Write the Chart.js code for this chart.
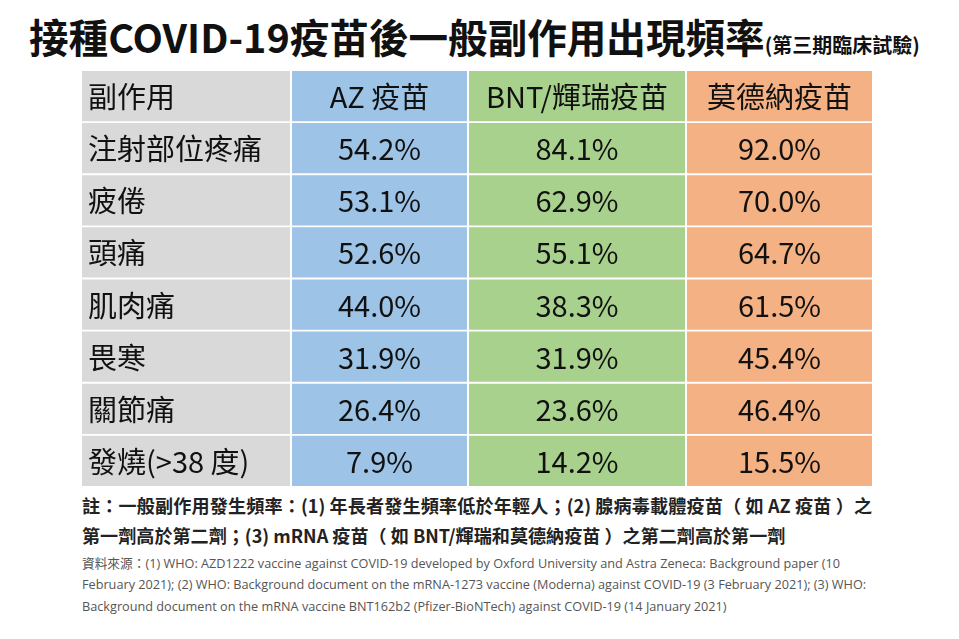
<!DOCTYPE html>
<html lang="zh-Hant">
<head>
<meta charset="utf-8">
<title>接種COVID-19疫苗後一般副作用出現頻率</title>
<script src="https://cdn.jsdelivr.net/npm/chart.js@4.4.1/dist/chart.umd.min.js"></script>
<style>
  html, body { margin: 0; padding: 0; background: #fff; }
  body { width: 959px; height: 639px; position: relative; overflow: hidden;
         font-family: "Noto Sans CJK TC", "Noto Sans", sans-serif; color: #111; }
  #title { position: absolute; left: 29px; top: 7px; font-size: 39.6px; font-weight: 700;
           white-space: nowrap; }
  #title small { font-size: 20px; font-weight: 700; }
  #table-box { position: absolute; left: 82px; top: 70px; width: 790px; height: 417px; }
  .note { position: absolute; left: 82px; font-size: 18.1px; font-weight: 700; color: #222; white-space: nowrap; }
  .note.full { width: 790px; text-align: justify; text-align-last: justify; }
  .src { position: absolute; left: 82px; font-size: 12.7px; color: #555; white-space: nowrap;
         font-family: "Open Sans", "Noto Sans CJK TC", sans-serif; }
</style>
</head>
<body>
<div id="title">接種COVID-19疫苗後一般副作用出現頻率<small>(第三期臨床試驗)</small></div>
<div id="table-box"><canvas id="grid"></canvas></div>
<div class="note full" style="top:492px">註：一般副作用發生頻率：(1) 年長者發生頻率低於年輕人；(2) 腺病毒載體疫苗（ 如 AZ 疫苗 ）之</div>
<div class="note" style="top:522px">第一劑高於第二劑；(3) mRNA 疫苗（ 如 BNT/輝瑞和莫德納疫苗 ）之第二劑高於第一劑</div>
<div class="src" style="top:553px">資料來源：(1) WHO: AZD1222 vaccine against COVID-19 developed by Oxford University and Astra Zeneca: Background paper (10</div>
<div class="src" style="top:575px">February 2021); (2) WHO: Background document on the mRNA-1273 vaccine (Moderna) against COVID-19 (3 February 2021); (3) WHO:</div>
<div class="src" style="top:597px">Background document on the mRNA vaccine BNT162b2 (Pfizer-BioNTech) against COVID-19 (14 January 2021)</div>

<script>
// --- data ---
const headers = ['副作用', 'AZ 疫苗', 'BNT/輝瑞疫苗', '莫德納疫苗'];
const sideEffects = ['注射部位疼痛', '疲倦', '頭痛', '肌肉痛', '畏寒', '關節痛', '發燒(>38 度)'];
const azValues = [54.2, 53.1, 52.6, 44.0, 31.9, 26.4, 7.9];
const bntValues = [84.1, 62.9, 55.1, 38.3, 31.9, 23.6, 14.2];
const modernaValues = [92.0, 70.0, 64.7, 61.5, 45.4, 46.4, 15.5];

// --- layout (x units = px across the table) ---
const colSpans = [[0, 208], [210, 385], [387, 603], [605, 790]];
const colColors = ['#d9d9d9', '#9dc3e6', '#a9d18e', '#f4b183'];

const rows = ['header', ...sideEffects];
const fmt = v => v.toFixed(1) + '%';

// text for each column: header first, then one per side effect
const cellText = [
  [headers[0], ...sideEffects],
  [headers[1], ...azValues.map(fmt)],
  [headers[2], ...bntValues.map(fmt)],
  [headers[3], ...modernaValues.map(fmt)]
];

const datasets = cellText.map((texts, c) => ({
  label: headers[c],
  data: texts.map(() => colSpans[c]),
  backgroundColor: colColors[c],
  borderWidth: 0,
  texts
}));

// draws the cell text at the centre of each bar
const cellLabels = {
  id: 'cellLabels',
  afterDatasetsDraw(chart) {
    const ctx = chart.ctx;
    ctx.save();
    ctx.fillStyle = '#111';
    ctx.textBaseline = 'middle';
    ctx.font = '29px "Noto Sans CJK TC", "Noto Sans", sans-serif';
    chart.data.datasets.forEach((ds, c) => {
      const meta = chart.getDatasetMeta(c);
      meta.data.forEach((bar, r) => {
        const left = Math.min(bar.x, bar.base);
        const right = Math.max(bar.x, bar.base);
        if (c === 0) {
          ctx.textAlign = 'left';
          ctx.fillText(ds.texts[r], left + 6, bar.y + 1);
        } else {
          ctx.textAlign = 'center';
          ctx.fillText(ds.texts[r], (left + right) / 2, bar.y + 1);
        }
      });
    });
    ctx.restore();
  }
};

new Chart(document.getElementById('grid'), {
  type: 'bar',
  data: { labels: rows, datasets },
  options: {
    indexAxis: 'y',
    responsive: true,
    maintainAspectRatio: false,
    animation: false,
    layout: { padding: 0 },
    datasets: {
      bar: { grouped: false, categoryPercentage: 1, barPercentage: 0.962 }
    },
    scales: {
      x: { type: 'linear', min: 0, max: 790, display: false },
      y: { type: 'category', display: false }
    },
    plugins: {
      legend: { display: false },
      tooltip: { enabled: false },
      title: { display: false }
    }
  },
  plugins: [cellLabels]
});
</script>
</body>
</html>
